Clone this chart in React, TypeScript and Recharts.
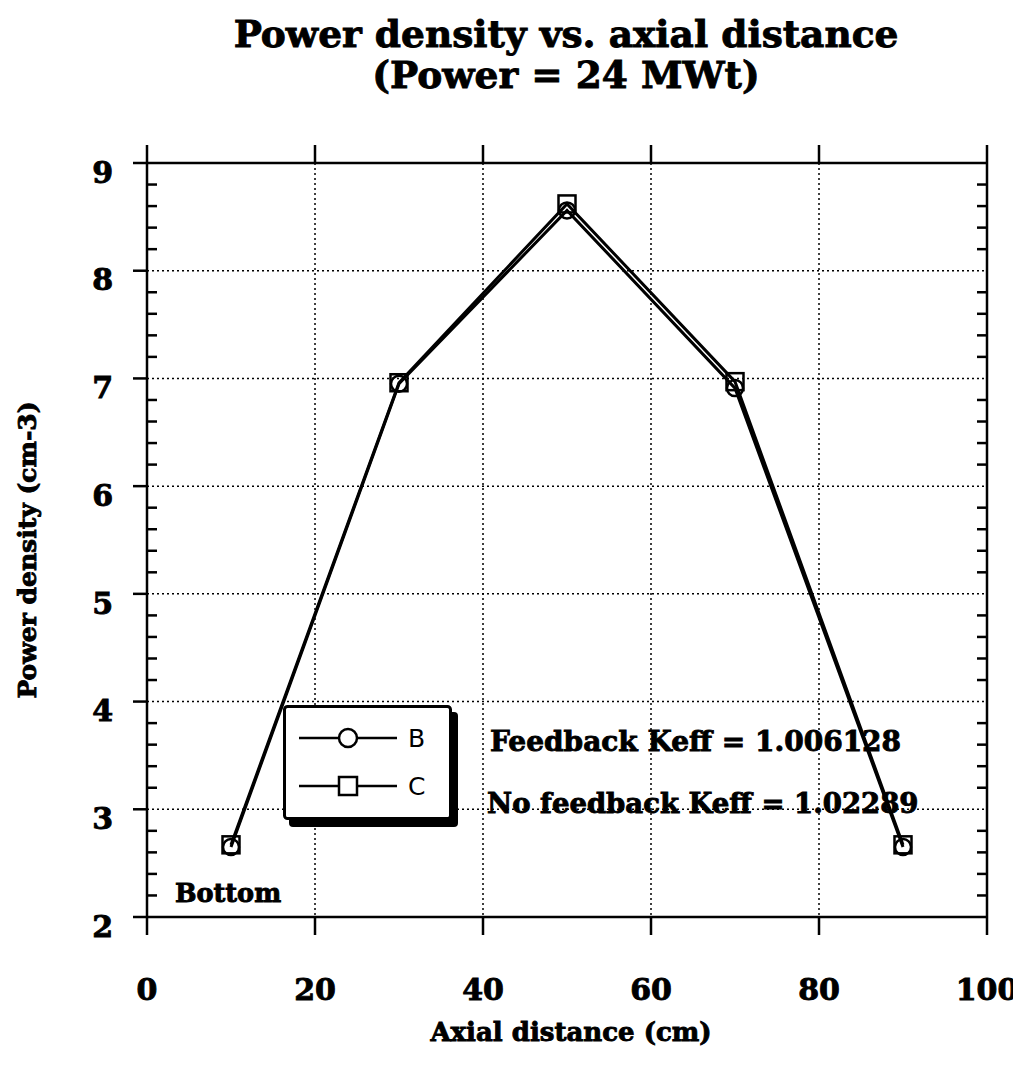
import {
  LineChart,
  Line,
  XAxis,
  YAxis,
  CartesianGrid,
  Customized
} from "recharts";

// axial positions (cm) and power density readings per case
const axialDistance = [10, 30, 50, 70, 90];
const seriesB = [2.65, 6.95, 8.56, 6.91, 2.65];
const seriesC = [2.67, 6.96, 8.62, 6.97, 2.67];

const xTicks = [0, 20, 40, 60, 80, 100];
const yTicks = [2, 3, 4, 5, 6, 7, 8, 9];
const yMinorTicks = [
  2.2, 2.4, 2.6, 2.8, 3.2, 3.4, 3.6, 3.8, 4.2, 4.4, 4.6, 4.8,
  5.2, 5.4, 5.6, 5.8, 6.2, 6.4, 6.6, 6.8, 7.2, 7.4, 7.6, 7.8,
  8.2, 8.4, 8.6, 8.8
];

const titleLines = ["Power density vs. axial distance", "(Power = 24 MWt)"];
const notes = ["Feedback Keff = 1.006128", "No feedback Keff = 1.02289", "Bottom"];
const legendNames = ["B", "C"];

const SERIF = "'DejaVu Serif', serif";
const INK = "#000";

const data = axialDistance.map((x, i) => ({ x, B: seriesB[i], C: seriesC[i] }));

// tick marks only, no label text
const NoLabel = () => <g />;

const renderSquare = (props: any) => {
  const { cx, cy, index } = props;
  return (
    <rect
      key={`sq-${index}`}
      x={cx - 8.5}
      y={cy - 8.5}
      width={17}
      height={17}
      fill="none"
      stroke={INK}
      strokeWidth={2.5}
    />
  );
};

const Decorations = () => (
  <g fontFamily={SERIF} fontWeight="bold" fill={INK} stroke={INK} strokeWidth={0.9}>
    <text x={558} y={39} fontSize={37.5} textAnchor="middle">{titleLines[0]}</text>
    <text x={558} y={80} fontSize={37.5} textAnchor="middle">{titleLines[1]}</text>

    <text x={563} y={1033} fontSize={26} textAnchor="middle">Axial distance (cm)</text>
    <text
      x={28}
      y={542}
      fontSize={25}
      textAnchor="middle"
      transform="rotate(-90 28 542)"
    >
      Power density (cm-3)
    </text>

    <text x={482} y={743} fontSize={28}>{notes[0]}</text>
    <text x={479} y={805} fontSize={27.5}>{notes[1]}</text>
    <text x={167} y={894} fontSize={25.5}>{notes[2]}</text>

    {/* boxed legend with drop shadow */}
    <g transform="translate(275 697)" strokeWidth={0}>
      <rect x={6} y={7} width={169} height={115} rx={4} fill={INK} />
      <rect x={1.5} y={1.5} width={166} height={112} rx={3} fill="#fff" stroke={INK} strokeWidth={3} />
      <line x1={16} y1={33} x2={114} y2={33} stroke={INK} strokeWidth={2.5} />
      <circle cx={65} cy={33} r={9} fill="#fff" stroke={INK} strokeWidth={2.5} />
      <line x1={16} y1={81} x2={114} y2={81} stroke={INK} strokeWidth={2.5} />
      <rect x={56} y={72} width={18} height={18} fill="#fff" stroke={INK} strokeWidth={2.5} />
      <g fontFamily="'DejaVu Sans', sans-serif" fontWeight="normal" fontSize={25} stroke="none">
        <text x={125} y={42}>{legendNames[0]}</text>
        <text x={125} y={90}>{legendNames[1]}</text>
      </g>
    </g>
  </g>
);

export default function App() {
  const tickFont = {
    fontFamily: SERIF,
    fontWeight: "bold",
    fontSize: 30,
    fill: INK,
    stroke: INK,
    strokeWidth: 0.9
  };

  const minorAxis = {
    type: "number" as const,
    mirror: true,
    domain: [2, 9],
    ticks: yMinorTicks,
    interval: 0,
    width: 10,
    tickSize: 10,
    tick: NoLabel,
    axisLine: false,
    tickLine: { stroke: INK, strokeWidth: 2.5 }
  };

  return (
    <div style={{ width: 1013, height: 1050, background: "#fff" }}>
      <LineChart
        width={1013}
        height={1050}
        data={data}
        margin={{ top: 135, right: 14, bottom: 81, left: 79 }}
      >
        <CartesianGrid
          xAxisId="bottom"
          yAxisId="left"
          stroke={INK}
          strokeWidth={1.5}
          strokeDasharray="2 3"
        />

        <XAxis
          xAxisId="bottom"
          type="number"
          dataKey="x"
          domain={[0, 100]}
          ticks={xTicks}
          interval={0}
          height={60}
          tickSize={18}
          tickMargin={44}
          axisLine={{ stroke: INK, strokeWidth: 2.5 }}
          tickLine={{ stroke: INK, strokeWidth: 2.5 }}
          tick={tickFont}
        />
        <XAxis
          xAxisId="top"
          orientation="top"
          type="number"
          dataKey="x"
          domain={[0, 100]}
          ticks={xTicks}
          interval={0}
          height={20}
          tickSize={18}
          tick={NoLabel}
          axisLine={{ stroke: INK, strokeWidth: 2.5 }}
          tickLine={{ stroke: INK, strokeWidth: 2.5 }}
        />

        <YAxis
          yAxisId="left"
          type="number"
          domain={[2, 9]}
          ticks={yTicks}
          interval={0}
          width={60}
          tickSize={14}
          tickMargin={20}
          axisLine={{ stroke: INK, strokeWidth: 2.5 }}
          tickLine={{ stroke: INK, strokeWidth: 2.5 }}
          tick={{ ...tickFont, dy: 9 }}
        />
        <YAxis
          yAxisId="right"
          orientation="right"
          type="number"
          domain={[2, 9]}
          ticks={yTicks}
          interval={0}
          width={20}
          tickSize={13}
          tick={NoLabel}
          axisLine={{ stroke: INK, strokeWidth: 2.5 }}
          tickLine={{ stroke: INK, strokeWidth: 2.5 }}
        />
        <YAxis yAxisId="minorL" orientation="left" {...minorAxis} />
        <YAxis yAxisId="minorR" orientation="right" {...minorAxis} />

        {/* invisible copies so the minor-tick axes have data bound to them */}
        <Line
          xAxisId="bottom"
          yAxisId="minorL"
          dataKey="B"
          stroke="none"
          dot={false}
          activeDot={false}
          isAnimationActive={false}
        />
        <Line
          xAxisId="bottom"
          yAxisId="minorR"
          dataKey="C"
          stroke="none"
          dot={false}
          activeDot={false}
          isAnimationActive={false}
        />

        <Line
          xAxisId="bottom"
          yAxisId="left"
          type="linear"
          dataKey="B"
          stroke={INK}
          strokeWidth={3}
          dot={{ r: 8, fill: "none", stroke: INK, strokeWidth: 2.5 }}
          isAnimationActive={false}
        />
        <Line
          xAxisId="bottom"
          yAxisId="left"
          type="linear"
          dataKey="C"
          stroke={INK}
          strokeWidth={3}
          dot={renderSquare}
          isAnimationActive={false}
        />

        <Customized component={Decorations} />
      </LineChart>
    </div>
  );
}
